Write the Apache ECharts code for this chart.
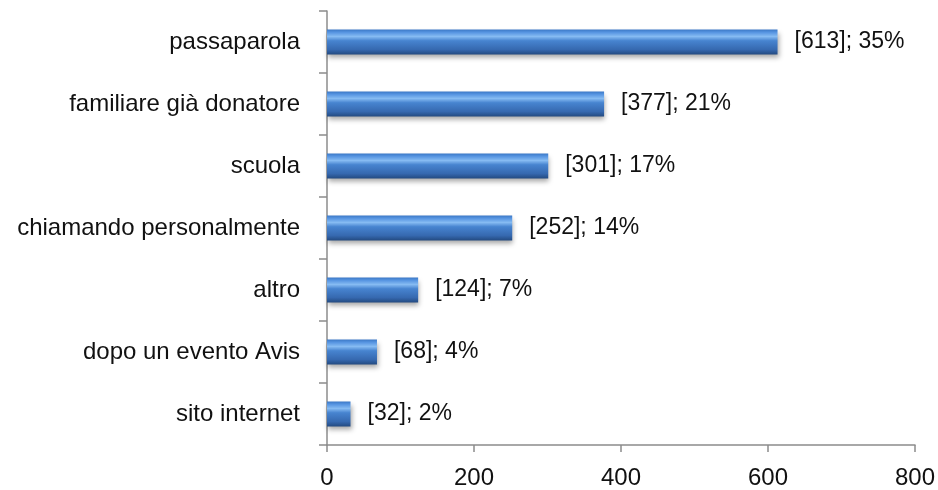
<!DOCTYPE html>
<html>
<head>
<meta charset="utf-8">
<script src="https://cdn.jsdelivr.net/npm/echarts@6/dist/echarts.min.js"></script>
<style>html,body{margin:0;padding:0;background:#fff}#c{width:938px;height:490px}</style>
</head>
<body>
<div id="c"></div>
<script>
var categories = ['passaparola', 'familiare già donatore', 'scuola', 'chiamando personalmente', 'altro', 'dopo un evento Avis', 'sito internet'];
var counts = [613, 377, 301, 252, 124, 68, 32];
var percents = [35, 21, 17, 14, 7, 4, 2];
var xTicks = [0, 200, 400, 600, 800];

var chart = echarts.init(document.getElementById('c'), null, {renderer: 'canvas'});
var font = 'Liberation Sans, Arial, sans-serif';
chart.setOption({
  animation: false,
  grid: {left: 327, right: 21, top: 11, bottom: 44, containLabel: false},
  xAxis: {
    type: 'value', min: xTicks[0], max: xTicks[xTicks.length - 1], interval: 200,
    axisLine: {show: true, lineStyle: {color: '#8c8c8c', width: 1.5}},
    axisTick: {show: true, length: 7, lineStyle: {color: '#8c8c8c', width: 1.5}},
    splitLine: {show: false},
    axisLabel: {color: '#111', fontFamily: font, fontSize: 24, margin: 21}
  },
  yAxis: {
    type: 'category', data: categories, inverse: true,
    axisLine: {show: true, lineStyle: {color: '#8c8c8c', width: 1.5}},
    axisTick: {show: true, length: 8, lineStyle: {color: '#8c8c8c', width: 1.5}},
    axisLabel: {color: '#111', fontFamily: font, fontSize: 24, margin: 27}
  },
  series: [{
    type: 'bar',
    data: counts,
    barWidth: 25,
    itemStyle: {
      color: new echarts.graphic.LinearGradient(0, 0, 0, 1, [
        {offset: 0, color: '#3b78c6'},
        {offset: 0.12, color: '#5896e2'},
        {offset: 0.28, color: '#86bbf2'},
        {offset: 0.45, color: '#4784d0'},
        {offset: 0.8, color: '#3669b0'},
        {offset: 1, color: '#234a80'}
      ]),
      shadowColor: 'rgba(0,0,0,0.35)', shadowBlur: 5, shadowOffsetY: 3, shadowOffsetX: 1
    },
    label: {
      show: true, position: 'right', distance: 17,
      color: '#111', fontFamily: font, fontSize: 23,
      formatter: function (p) { return '[' + counts[p.dataIndex] + ']; ' + percents[p.dataIndex] + '%'; }
    }
  }]
});
</script>
</body>
</html>
